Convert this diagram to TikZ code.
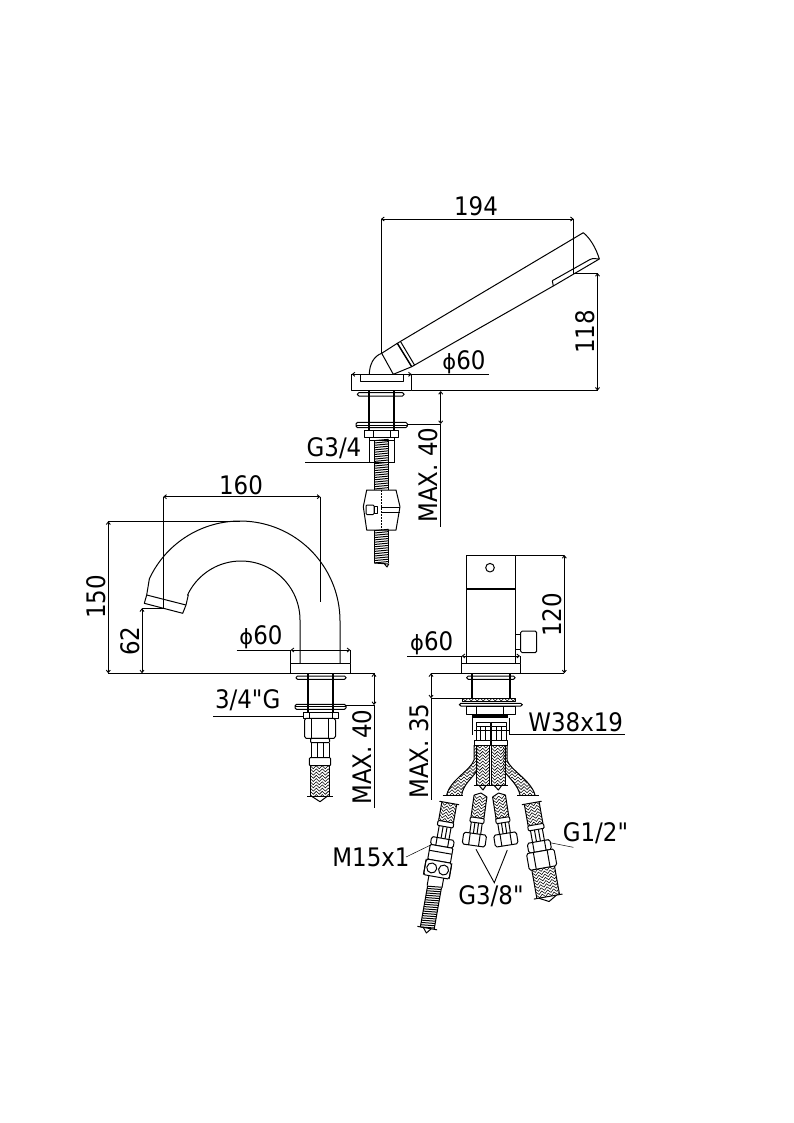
\documentclass[tikz,border=0pt]{standalone}
\usepackage{fontspec}
\newfontfamily\labelfont{DejaVu Sans Condensed}
\newfontfamily\phifont{DejaVu Sans}
\usetikzlibrary{arrows.meta}
\tikzset{
  part/.style={draw=black,line width=1pt,line join=round},
  heavy/.style={draw=black,line width=1.9pt},
  dimline/.style={draw=black,line width=0.9pt},
  dimarrow/.style={dimline,{Straight Barb[length=2.5pt,width=4pt]}-{Straight Barb[length=2.5pt,width=4pt]}},
  hatchline/.style={draw=black,line width=0.55pt},
  label/.style={font=\labelfont\fontsize{25.5}{26}\selectfont,inner sep=0pt,text=black},
}
% herringbone rows inside a region
\newcommand{\herring}[4]{%
  \pgfmathtruncatemacro\hrN{(#4-(#3))/3.2+1}%
  \pgfmathtruncatemacro\hcN{(#2-(#1))/3.0+1}%
  \foreach \r in {0,...,\hrN}{%
    \pgfmathsetmacro\yy{#3-3.2+\r*3.2}%
    \draw[hatchline] (#1,\yy) \foreach \c in {1,...,\hcN}{ -- ({#1+\c*3.0},{\yy+mod(\c,2)*3.0}) };
  }}
\newcommand{\braid}[4]{%
  \begin{scope}\clip (#1,#3) rectangle (#2,#4);\herring{#1}{#2}{#3}{#4}\end{scope}
  \draw[part] (#1,#3) -- (#1,#4) (#2,#3) -- (#2,#4);}
\newcommand{\spiral}[4]{%
  \pgfmathtruncatemacro\spN{(#4-(#3))/2.3}%
  \foreach \r in {0,...,\spN}{%
    \pgfmathsetmacro\yy{#3+\r*2.3}%
    \draw[draw=black,line width=1pt] (#1,\yy+0.7) -- (#2,\yy-0.7);
  }
  \draw[part] (#1,#3) -- (#1,#4) (#2,#3) -- (#2,#4);}
\newcommand{\brk}[3]{% x1 x2 y: break mark with small tip
  \draw[part] (#1-3,#3) -- (#2+3,#3);
  \draw[part] (#1+2,#3) -- ({(#1+#2)/2},#3+5) -- (#2-3,#3);}
\newcommand{\hexnut}[4]{% x half-width, y1, y2, inner half-width
  \draw[part,fill=white] (-#1+1.5,#2) -- (#1-1.5,#2) -- (#1,#2+2) -- (#1,#3-2) -- (#1-1.5,#3) -- (-#1+1.5,#3) -- (-#1,#3-2) -- (-#1,#2+2) -- cycle;
  \draw[part] (-#4,#2) -- (-#4,#3) (#4,#2) -- (#4,#3);}
\newcommand{\stem}[3]{% half width, y1, y2
  \draw[part] (-#1,#2) -- (-#1,#3) (-#1/3,#2) -- (-#1/3,#3) (#1/3,#2) -- (#1/3,#3) (#1,#2) -- (#1,#3);}
\newcommand{\collar}[3]{% half width, y1, y2
  \draw[part,fill=white,rounded corners=1pt] (-#1,#2) rectangle (#1,#3);}
\newcommand{\phisign}{{\phifont\fontsize{21}{22}\selectfont ϕ}}
\begin{document}
\begin{tikzpicture}[x=1pt,y=-1pt]
\useasboundingbox (0,0) rectangle (793,1123);
\fill[white] (0,0) rectangle (793,1123);

%% ---------- TOP VIEW: hand shower ----------
\draw[part] (397.3,343.3) -- (583.3,232.7) .. controls (590,238) and (596,248) .. (599.3,259) -- (553.3,286) -- (411.7,366.7) -- cycle;
\draw[part] (552.3,280.7) -- (590,259.5) -- (593,258.5) -- (599.3,259);
\draw[part] (552.3,280.7) -- (553.3,286);
\draw[heavy,line width=1.3pt] (397.3,343.3) -- (411.7,366.7);
\draw[part] (400.5,341.5) -- (414.5,365);
\draw[part] (397.3,343.3) -- (381.7,353.3) -- (393.3,374.3) -- (411.7,366.7);
\draw[part] (381.7,353.3) .. controls (374,356) and (369.5,364) .. (369.3,374.3);
% base
\draw[part] (351.7,374.3) rectangle (411.7,390.7);
\draw[part] (360,374.3) rectangle (403.3,381);
% dimensions
\coordinate (a1) at (381,219); \coordinate (a2) at (573.7,219);
\coordinate (a3) at (597.5,273); \coordinate (a4) at (597.5,390.7);
\draw[dimarrow] (a1) -- (a2);
\draw[dimline] (a1) -- (381,353) (a2) -- (573.7,273) -- (a3);
\draw[dimarrow] (a3) -- (a4);
\draw[dimline] (411.7,390.7) -- (a4);
\draw[dimarrow] (351.7,374.3) -- (411.7,374.3);
\draw[dimline] (411.7,374.3) -- (489,374.3);
\node[label] (t194) at (476,206) {194};
\node[label,rotate=90] (t118) at (585.5,332) {118};
\node[label] (tphi1) at (464,362) {\phisign60};
% under deck
\draw[part,rounded corners=1.5pt] (357.3,392.7) rectangle (404,396);
\draw[heavy] (369,391) -- (369,430) (394,391) -- (394,430);
\draw[part,rounded corners=1.5pt] (356,422.3) rectangle (407.3,427.7);
\draw[part] (356,425) -- (407.3,425);
\draw[part] (364,430.7) rectangle (398.3,437.7);
\draw[part] (373,430.7) -- (373,437.7) (390,430.7) -- (390,437.7);
\draw[part] (369,437.7) rectangle (394.3,440);
\draw[part] (369,440) -- (369,462.7) (394.3,440) -- (394.3,462.7);
\spiral{374.3}{388.7}{440}{490}
\draw[part,fill=white] (366.7,490) -- (396,490) -- (400,506.7) -- (396,530) -- (366.7,530) -- (363.3,506.7) -- cycle;
\draw[draw=black,line width=1.4pt,dash pattern=on 2pt off 1pt] (381.3,490) -- (381.3,530);
\draw[part] (381.3,507.7) -- (400,507.7) (381.3,512.3) -- (399.5,512.3);
\draw[part,rounded corners=1pt] (366,505) rectangle (374,514.5);
\draw[part] (374,506.5) rectangle (377.5,513);
\spiral{374.3}{388.7}{530}{563}
\draw[part] (374.3,563) -- (388.7,564) -- (387,567) -- (384.5,564);
% dimensions
\coordinate (b1) at (440.7,391); \coordinate (b2) at (440.7,424);
\draw[dimarrow] (b1) -- (b2);
\draw[dimline] (b2) -- (440.7,526.7);
\draw[dimline] (407.3,424) -- (b2);
\node[label,rotate=90] (tmax1) at (428.5,475) {MAX. 40};
\draw[dimline] (305,462.3) -- (394.3,462.3);
\node[label] (tg34) at (334,448) {G3/4};

%% ---------- LEFT VIEW: spout ----------
\draw[part] (340,663.3) -- (340,621) -- plot[domain=0:155,samples=70] ({240+100*cos(\x)},{621-100*sin(\x)}) -- (146.7,595) -- (144.3,603.3) -- (182.7,613.3) -- (186,605) -- (188.3,595) -- plot[domain=155:0,samples=60] ({241+59*cos(\x)},{620-59*sin(\x)}) -- (300,663.3);
\draw[part] (146.7,595) -- (186,605);
\draw[part] (290.7,663.3) rectangle (350.3,673.3);
\draw[part] (290.7,650) -- (290.7,663.3) (350.3,650) -- (350.3,663.3);
\coordinate (c1) at (163.3,496.7); \coordinate (c2) at (320.3,496.7);
\draw[dimarrow] (c1) -- (c2);
\draw[dimline] (c1) -- (163.3,608.3) (c2) -- (320.3,602.3);
\coordinate (c3) at (108.3,521.3); \coordinate (c4) at (108.3,673.3);
\draw[dimarrow] (c3) -- (c4);
\draw[dimline] (c3) -- (240,521.3) (c4) -- (375,673.3);
\coordinate (c5) at (142,608.3); \coordinate (c6) at (142,673.3);
\draw[dimarrow] (c5) -- (c6);
\draw[dimline] (c5) -- (163.3,608.3);
\draw[dimarrow] (290.7,650) -- (350.3,650);
\draw[dimline] (236.7,650) -- (290.7,650);
\node[label] (t160) at (241,485) {160};
\node[label,rotate=90] (t150) at (96.5,596.7) {150};
\node[label,rotate=90] (t62) at (130,641) {62};
\node[label] (tphi2) at (261,637) {\phisign60};
% under deck
\draw[part,rounded corners=1.5pt] (296,676) rectangle (346,679.3);
\draw[heavy] (307.7,673.3) -- (307.7,712.7) (332.7,673.3) -- (332.7,712.7);
\draw[part,rounded corners=1.5pt] (295,704.3) rectangle (346,709.3);
\draw[part] (295,706.8) -- (346,706.8);
\begin{scope}[shift={(320,0)}]
  \draw[part] (-16.7,712.3) rectangle (18.3,718.3);
  \draw[part] (-11,712.3) -- (-11,718.3) (12,712.3) -- (12,718.3);
  \hexnut{15.5}{718.3}{738.3}{8.3}
  \collar{9.5}{738.3}{742.7}
  \stem{9}{742.7}{757.7}
  \collar{10.7}{757.7}{765.7}
  \braid{-9.7}{9.7}{765.7}{796.7}
  \brk{-9.7}{9.7}{796.7}
\end{scope}
\draw[dimline] (213.3,716.3) -- (303.3,716.3);
\node[label] (tg34b) at (247.7,700.7) {3/4"G};
\coordinate (d1) at (374,673.3); \coordinate (d2) at (374,705);
\draw[dimarrow] (d1) -- (d2);
\draw[dimline] (d2) -- (374,808) (346,705) -- (d2);
\node[label,rotate=90] (tmax2) at (362.5,757) {MAX. 40};

%% ---------- RIGHT VIEW: mixer ----------
\draw[part] (466.3,555) rectangle (515.7,663.3);
\draw[heavy] (466.3,589) -- (515.7,589);
\draw[part] (490,567.7) circle[radius=4.3pt];
\draw[part] (515.7,634) rectangle (520.7,649.3);
\draw[part,rounded corners=1.5pt] (520.7,631) rectangle (536.7,652.7);
\draw[part] (461.7,663.3) rectangle (520,673.3);
\draw[part] (461.7,656) -- (461.7,663.3) (520,656) -- (520,663.3);
\draw[dimarrow] (461.7,656) -- (520,656);
\draw[dimline] (407.3,656) -- (461.7,656);
\node[label] (tphi3) at (431.7,643) {\phisign60};
\coordinate (e1) at (564.3,555); \coordinate (e2) at (564.3,673.3);
\draw[dimarrow] (e1) -- (e2);
\draw[dimline] (515.7,555) -- (e1) (430.7,673.3) -- (e2);
\node[label,rotate=90] (t120) at (552.5,615) {120};
% under deck
\draw[part,rounded corners=1.5pt] (466.7,676) rectangle (515,679.3);
\draw[heavy] (471.7,673.3) -- (471.7,698.3) (510,673.3) -- (510,698.3);
\begin{scope}\clip (462.3,698.3) rectangle (515,701.7);\herring{462.3}{515}{698}{702}\end{scope}
\draw[part] (462.3,698.3) rectangle (515,701.7);
\draw[part,rounded corners=1.5pt] (459.3,703.3) rectangle (522.3,706);
\draw[part] (466,706) rectangle (515,714.3);
\draw[part] (476,706) -- (476,714.3) (503.3,706) -- (503.3,714.3);
\fill[black] (471.7,714.3) rectangle (508.3,718.3);
\draw[part] (472,718) -- (472,735) (509,718) -- (509,735);
\coordinate (f1) at (431,673.3); \coordinate (f2) at (431,698.3);
\draw[dimarrow] (f1) -- (f2);
\draw[dimline] (f2) -- (431,800) (f2) -- (471.7,698.3);
\node[label,rotate=90] (tmax3) at (419.5,751) {MAX. 35};
\draw[dimline] (509,734) -- (625,734);
\node[label] (tw) at (575.7,722.5) {W38x19};
% curved branches of the hoses
\begin{scope}
  \clip (474,745) -- (474,760) .. controls (471,770) and (450,780) .. (446.7,795) -- (461.7,795) .. controls (463,785) and (472,778) .. (478,770) -- (478,745) -- cycle;
  \herring{440}{480}{745}{796}
\end{scope}
\draw[part] (474,745) -- (474,760) .. controls (471,770) and (450,780) .. (446.7,795);
\draw[part] (461.7,795) .. controls (463,785) and (472,778) .. (476,772);
\begin{scope}
  \clip (507,745) -- (507,760) .. controls (510,770) and (531,780) .. (535,795) -- (520,795) .. controls (518,785) and (509,778) .. (503,770) -- (503,745) -- cycle;
  \herring{500}{540}{745}{796}
\end{scope}
\draw[part] (507,745) -- (507,760) .. controls (510,770) and (531,780) .. (535,795);
\draw[part] (520,795) .. controls (518,785) and (509,778) .. (505,772);
\draw[part] (442.7,795) -- (463,795) (517,795) -- (539,795);
% top of the two straight hoses
\draw[part] (476,722.7) rectangle (490,726.7);
\draw[part] (491.7,722.7) rectangle (506,726.7);
\draw[part] (476,726.7) -- (476,740) (480.5,726.7) -- (480.5,740) (485.5,726.7) -- (485.5,740) (490,726.7) -- (490,740);
\draw[part] (491.7,726.7) -- (491.7,740) (496.5,726.7) -- (496.5,740) (501.5,726.7) -- (501.5,740) (506,726.7) -- (506,740);
\draw[part] (474,730) -- (509,730);
\draw[part] (474,740.7) rectangle (490.7,745);
\draw[part] (491.7,740.7) rectangle (507.3,745);
\braid{476.7}{489.3}{745}{785}
\braid{491.7}{505}{745}{785}
\brk{476.7}{489.3}{785}
\brk{491.7}{505}{785}
% lower pieces: inner left
\begin{scope}[shift={(480.5,796)},rotate=-8]
  \braid{-6.5}{6.5}{0}{22}
  \draw[part] (-6.5,0) -- (0,-3) -- (6.5,0);
  \collar{7}{22}{27}
  \stem{5.5}{27}{38}
  \hexnut{11.5}{38}{50}{5}
\end{scope}
% lower pieces: inner right
\begin{scope}[shift={(499,796)},rotate=9]
  \braid{-6.5}{6.5}{0}{22}
  \draw[part] (-6.5,0) -- (0,-3) -- (6.5,0);
  \collar{7}{22}{27}
  \stem{5.5}{27}{38}
  \hexnut{11.5}{38}{50}{5}
\end{scope}
% lower pieces: outer left
\begin{scope}[shift={(449.3,803)},rotate=-10]
  \draw[part] (-10,0) -- (10,0);
  \braid{-7.5}{7.5}{0}{19}
  \collar{8}{19}{24}
  \stem{6}{24}{36}
  \hexnut{11.5}{36}{44}{6}
  \collar{11.5}{44}{59}
  \draw[part] (-11.5,50) -- (11.5,50);
  \hexnut{13}{59}{75}{13}
  \draw[part] (-6,67) circle[radius=5pt] (6,67) circle[radius=5pt];
  \draw[part] (-7.5,75) -- (-7.5,85) (7.5,75) -- (7.5,85);
  \spiral{-7}{7}{85}{127}
  \draw[part] (-10,127) -- (10,127);
  \draw[part] (-4,127) -- (0,132) -- (4,127);
\end{scope}
% lower pieces: outer right
\begin{scope}[shift={(531.7,803)},rotate=10]
  \draw[part] (-10,0) -- (10,0);
  \braid{-7.5}{7.5}{0}{22}
  \collar{8}{22}{27}
  \stem{6}{27}{39}
  \hexnut{11.5}{39}{49}{6}
  \hexnut{14}{49}{66}{7}
  \braid{-11.5}{11.5}{66}{95}
  \brk{-11.5}{11.5}{95}
\end{scope}
% leaders and labels
\coordinate (g1) at (476,849.3); \coordinate (g2) at (494.3,882.7); \coordinate (g3) at (507.3,850);
\draw[dimline] (g1) -- (g2) -- (g3);
\node[label] (tg38) at (491,896) {G3/8"};
\coordinate (m1) at (406,857); \coordinate (m2) at (430.7,845);
\draw[dimline,line width=0.5pt] (m1) -- (m2);
\node[label] (tm15) at (371,857) {M15x1};
\coordinate (h1) at (550,842.7); \coordinate (h2) at (573.3,847.3);
\draw[dimline,line width=0.5pt] (h1) -- (h2);
\node[label] (tg12) at (595.5,833) {G1/2"};
\end{tikzpicture}
\end{document}
